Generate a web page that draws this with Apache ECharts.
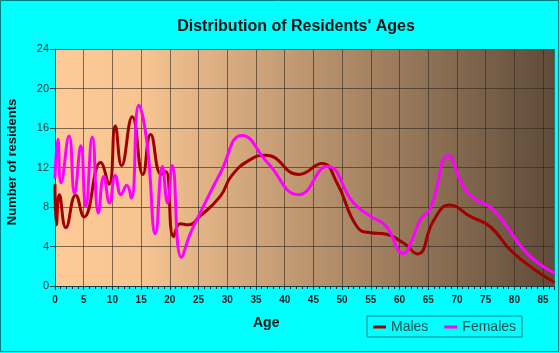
<!DOCTYPE html>
<html>
<head>
<meta charset="utf-8">
<style>
  html, body { margin: 0; padding: 0; background: #00ffff; }
  #main { width: 560px; height: 353px; }
</style>
</head>
<body>
<div id="main"></div>
<script src="https://cdn.jsdelivr.net/npm/echarts@6/dist/echarts.min.js"></script>
<script>
// 男性（年龄，人数）
var maleAges   = [0, 0.25, 0.75, 1.9, 3.6, 5.05, 7.95, 9.4, 10.5, 11.6, 13.45, 15.3, 16.65, 18.5, 19.3, 20.65, 21.8, 23.2, 25.2, 28.8, 30.8, 34, 36.7, 42.5, 46.5, 49.1, 52.6, 55, 57.3, 60.7, 63.1, 66, 68.7, 72.3, 75.8, 79.9, 87];
var maleValues = [10.3, 6.2, 9.25, 5.9, 9.2, 7.0, 12.5, 10.3, 16.2, 12.2, 17.15, 11.3, 15.35, 11.3, 11.6, 5.0, 6.3, 6.2, 7.05, 9.1, 11.2, 12.8, 13.25, 11.3, 12.4, 10.45, 6.0, 5.4, 5.3, 4.35, 3.25, 6.7, 8.2, 7.05, 6.0, 3.3, 0.35];
// 女性
var femaleAges   = [0, 0.5, 1.05, 2.45, 3.4, 4.5, 5.35, 6.5, 7.55, 8.5, 9.5, 10.5, 11.5, 12.5, 13.3, 14.6, 16.0, 17.5, 18.7, 19.6, 20.4, 22.0, 23.6, 25.2, 28.8, 32.6, 37, 42.5, 47.4, 52, 55, 57.6, 60.7, 62.2, 63.6, 65.4, 68.5, 70.9, 72.9, 76.4, 82.2, 87];
var femaleValues = [10.9, 14.85, 10.45, 15.2, 9.4, 14.2, 8.05, 15.1, 7.4, 11.1, 8.4, 11.2, 9.25, 10.2, 8.9, 18.3, 14.6, 5.3, 12.1, 8.4, 12.2, 2.9, 5.35, 7.3, 11.45, 15.25, 12.5, 9.25, 12.1, 8.4, 7.05, 6.1, 3.3, 4.7, 6.7, 7.9, 13.2, 10.3, 8.9, 7.7, 3.3, 1.3];
var yTicks = [0, 4, 8, 12, 16, 20, 24];

function zip(a, b) {
    return a.map(function (v, i) { return [v, b[i]]; });
}

var myChart = echarts.init(document.getElementById('main'));

var option = {
    backgroundColor: '#00ffff',
    animation: false,
    title: {
        text: "Distribution of Residents' Ages",
        left: 291,
        top: 14,
        textAlign: 'center',
        textStyle: { fontFamily: 'Liberation Sans, Arial', fontSize: 16, fontWeight: 'bold', color: '#111' }
    },
    grid: {
        left: 55, right: 6, top: 49, bottom: 67,
        show: true,
        borderWidth: 0,
        backgroundColor: new echarts.graphic.LinearGradient(0, 0, 1, 0, [
            { offset: 0, color: '#fdca98' },
            { offset: 0.18, color: '#f6c391' },
            { offset: 0.55, color: '#b48f6b' },
            { offset: 1, color: '#5f4b39' }
        ])
    },
    legend: {
        left: 367, top: 316,
        width: 154,
        padding: [4, 6, 3, 6],
        borderColor: '#008080',
        borderWidth: 1,
        itemGap: 16,
        itemWidth: 13,
        itemHeight: 3,
        icon: 'rect',
        textStyle: { fontFamily: 'Liberation Sans, Arial', fontSize: 14, color: '#1f4f4f' },
        data: ['Males', 'Females']
    },
    xAxis: {
        type: 'value',
        min: 0, max: 86.9, interval: 5,
        axisLine: { lineStyle: { color: '#1a3a3a', width: 1 } },
        axisTick: { show: true, length: 4, lineStyle: { color: '#1a3a3a' } },
        minorTick: { show: true, splitNumber: 5, length: 3, lineStyle: { color: '#1a3a3a' } },
        axisLabel: {
            showMaxLabel: false, margin: 9,
            fontFamily: 'Liberation Sans, Arial', fontSize: 10, fontWeight: 'bold', color: '#222'
        },
        splitLine: { show: true, lineStyle: { color: 'rgba(50,40,30,0.62)', width: 1 } }
    },
    yAxis: {
        type: 'value',
        min: 0, max: 24, interval: 4,
        axisLine: { show: true, lineStyle: { color: '#1a5050', width: 1 } },
        axisTick: { show: true, length: 5, lineStyle: { color: '#1a5050' } },
        axisLabel: {
            margin: 6,
            fontFamily: 'Liberation Sans, Arial', fontSize: 11, color: '#333',
            formatter: function (v) { return yTicks.indexOf(v) >= 0 ? v : ''; }
        },
        splitLine: { show: true, lineStyle: { color: 'rgba(50,40,30,0.62)', width: 1 } }
    },
    graphic: [
        {
            type: 'rect', silent: true, z: 100,
            shape: { x: 0.5, y: 0.5, width: 558, height: 351 },
            style: { fill: null, stroke: '#008080', lineWidth: 1 }
        },
        {
            type: 'text', left: 253, top: 316,
            style: { text: 'Age', font: 'bold 14px Liberation Sans, Arial', fill: '#111' }
        },
        {
            type: 'text', x: 19, y: 162, rotation: Math.PI / 2,
            style: { text: 'Number of residents', font: 'bold 13px Liberation Sans, Arial', fill: '#111', align: 'center', verticalAlign: 'bottom' }
        }
    ],
    series: [
        {
            name: 'Males', type: 'line', smooth: 0.5, showSymbol: false,
            clip: true,
            lineStyle: { color: '#a00000', width: 3 },
            itemStyle: { color: '#a00000' },
            data: zip(maleAges, maleValues)
        },
        {
            name: 'Females', type: 'line', smooth: 0.5, showSymbol: false,
            clip: true,
            lineStyle: { color: '#ff00ff', width: 3 },
            itemStyle: { color: '#ff00ff' },
            data: zip(femaleAges, femaleValues)
        }
    ]
};
myChart.setOption(option);
</script>
</body>
</html>
